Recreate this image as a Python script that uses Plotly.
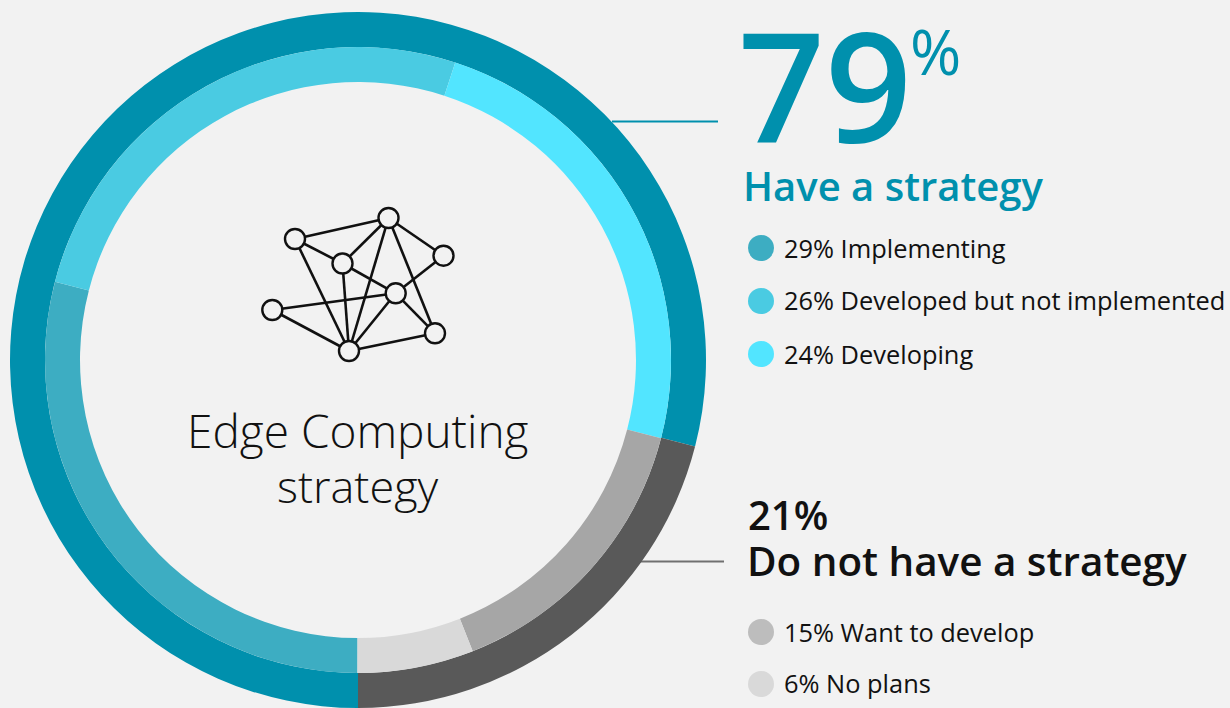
import plotly.graph_objects as go

W, H = 1230, 708
BG = "#f2f2f2"
TEAL = "#0090ad"
DARK = "#595959"

# Data
outer_labels = ["Have a strategy", "Do not have a strategy"]
outer_values = [79, 21]
outer_colors = [TEAL, DARK]

inner_labels = ["Implementing", "Developed but not implemented", "Developing", "Want to develop", "No plans"]
inner_values = [29, 26, 24, 15, 6]
inner_colors = ["#3dadc2", "#4acbe2", "#52e5ff", "#a6a6a6", "#d9d9d9"]
dot_colors = ["#3dadc2", "#4acbe2", "#52e5ff", "#bdbdbd", "#d9d9d9"]
legend_y = [248, 301, 354, 632, 684]

# Network icon
node_x = [295, 388.5, 342.5, 443.5, 395.7, 272.3, 435, 349]
node_y = [239, 218, 263.5, 255.7, 293.3, 310, 333.3, 351]
edges = [(0, 1), (0, 2), (0, 7), (1, 2), (1, 7), (1, 3), (1, 6), (2, 4), (2, 7),
         (3, 4), (4, 5), (4, 7), (4, 6), (5, 7), (6, 7)]

FONT = "Open Sans"
fig = go.Figure()

# rings
fig.add_trace(go.Pie(labels=outer_labels, values=outer_values, sort=False, direction="clockwise",
                     rotation=180, hole=313 / 348, textinfo="none", hoverinfo="skip", showlegend=False,
                     marker=dict(colors=outer_colors, line=dict(width=0)),
                     domain=dict(x=[10 / W, 706 / W], y=[0, 696 / H])))
fig.add_trace(go.Pie(labels=inner_labels, values=inner_values, sort=False, direction="clockwise",
                     rotation=180.1, hole=278 / 313, textinfo="none", hoverinfo="skip", showlegend=False,
                     marker=dict(colors=inner_colors, line=dict(width=0)),
                     domain=dict(x=[45 / W, 671 / W], y=[35 / H, 661 / H])))

# leader lines
fig.add_trace(go.Scatter(x=[612, 718], y=[121.5, 121.5], mode="lines", line=dict(color=TEAL, width=2),
                         hoverinfo="skip", showlegend=False))
fig.add_trace(go.Scatter(x=[640, 724], y=[561.5, 561.5], mode="lines", line=dict(color="#707070", width=2),
                         hoverinfo="skip", showlegend=False))

# icon edges
ex, ey = [], []
for a, b in edges:
    ex += [node_x[a], node_x[b], None]
    ey += [node_y[a], node_y[b], None]
fig.add_trace(go.Scatter(x=ex, y=ey, mode="lines", line=dict(color="#111111", width=2.6),
                         hoverinfo="skip", showlegend=False))
fig.add_trace(go.Scatter(x=node_x, y=node_y, mode="markers",
                         marker=dict(size=20, color=BG, line=dict(color="#111111", width=2.4)),
                         hoverinfo="skip", showlegend=False))

# legend dots
fig.add_trace(go.Scatter(x=[761] * 5, y=legend_y, mode="markers",
                         marker=dict(size=26, color=dot_colors, line=dict(width=0)),
                         hoverinfo="skip", showlegend=False))


def txt(x, y, s, size, color, weight=400, anchor="left"):
    fig.add_annotation(x=x, y=y, text=s, showarrow=False, xanchor=anchor, yanchor="middle", align=anchor,
                       font=dict(family=FONT, size=size, color=color, weight=weight))


txt(736, 84, "79", 152, TEAL, 600)
txt(908, 51, "%", 62, TEAL, 400)
txt(741, 185, "Have a strategy", 40, TEAL, 600)
txt(782, 248, f"{inner_values[0]}% {inner_labels[0]}", 25.4, "#111111")
txt(782, 300, f"{inner_values[1]}% {inner_labels[1]}", 25.4, "#111111")
txt(782, 354, f"{inner_values[2]}% {inner_labels[2]}", 25.4, "#111111")
txt(746, 514, "21%", 40, "#111111", 600)
txt(745, 560, "Do not have a strategy", 40.4, "#111111", 600)
txt(782, 632, f"{inner_values[3]}% {inner_labels[3]}", 25.4, "#111111")
txt(782, 683, f"{inner_values[4]}% {inner_labels[4]}", 25.4, "#111111")
txt(358, 430, "Edge Computing", 46, "#111111", 300, "center")
txt(358, 485, "strategy", 45, "#111111", 300, "center")

fig.update_layout(width=W, height=H, margin=dict(l=0, r=0, t=0, b=0), paper_bgcolor=BG, plot_bgcolor=BG,
                  xaxis=dict(range=[0, W], visible=False, domain=[0, 1]),
                  yaxis=dict(range=[H, 0], visible=False, domain=[0, 1]))
fig.write_html("out.html", config=dict(displayModeBar=False),
               post_script="document.body.style.margin='0';document.body.style.background='#f2f2f2';document.documentElement.style.overflow='hidden';")
